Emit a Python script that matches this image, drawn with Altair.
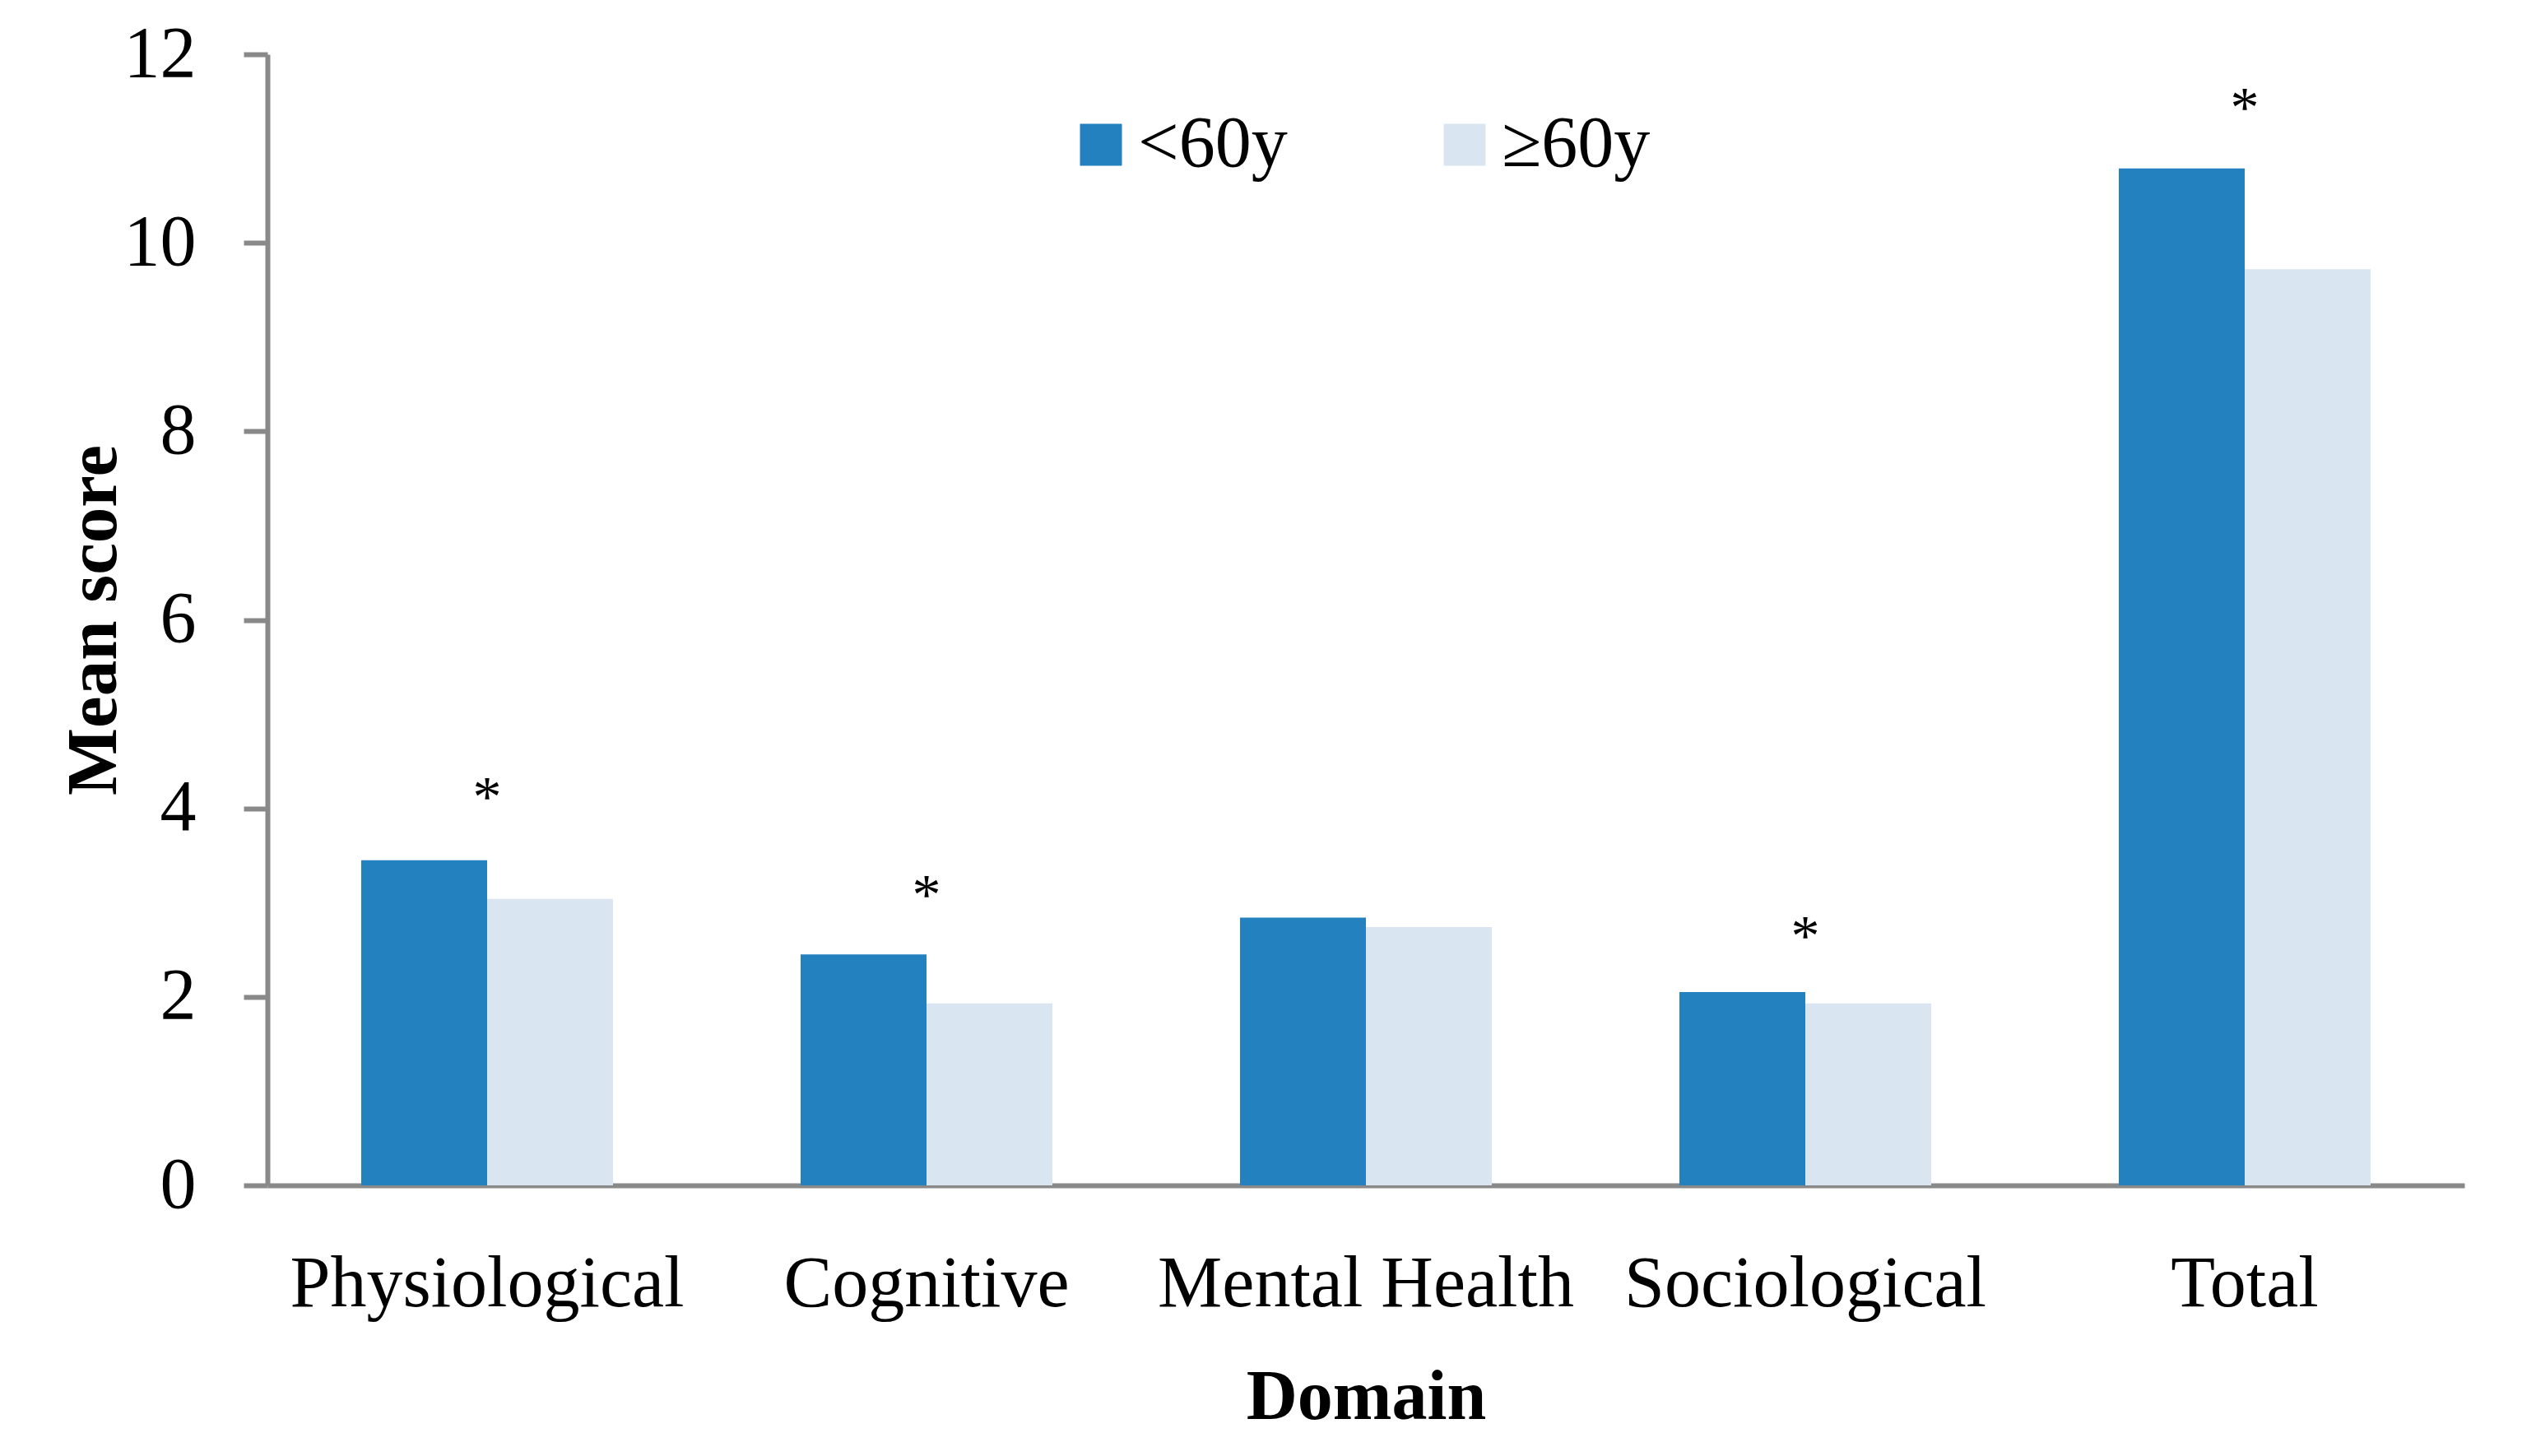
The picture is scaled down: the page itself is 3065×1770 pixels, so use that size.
import altair as alt
import pandas as pd

domains = ["Physiological", "Cognitive", "Mental Health", "Sociological", "Total"]
groups = ["<60y", "≥60y"]
under60 = [3.45, 2.45, 2.84, 2.05, 10.79]
over60 = [3.04, 1.93, 2.74, 1.93, 9.72]
colors = ["#2481C0", "#D9E6F2"]
star_domains = ["Physiological", "Cognitive", "Sociological", "Total"]
star_y = [4.20, 3.16, 2.72, 11.51]
y_ticks = [0, 2, 4, 6, 8, 10, 12]

rows = []
for d, a, b in zip(domains, under60, over60):
    rows.append({"Domain": d, "Group": groups[0], "value": a})
    rows.append({"Domain": d, "Group": groups[1], "value": b})
bars_df = pd.DataFrame(rows)
stars_df = pd.DataFrame({"Domain": star_domains, "value": star_y})

FONT = "Liberation Serif"
GRAY = "#898989"

bars = alt.Chart(bars_df).mark_bar(strokeWidth=0).encode(
    x=alt.X(
        "Domain:N",
        sort=domains,
        scale=alt.Scale(paddingInner=0.427, paddingOuter=0.2135),
        axis=alt.Axis(
            title="Domain",
            labelAngle=0,
            ticks=False,
            tickSize=0,
            labelPadding=146,
            labelBaseline="alphabetic",
            labelFont=FONT,
            labelFontSize=88,
            labelColor="black",
            labelLimit=0,
            labelOverlap=False,
            labelFlush=False,
            titleFont=FONT,
            titleFontSize=86,
            titleFontWeight="bold",
            titleColor="black",
            titleBaseline="alphabetic",
            titleY=283,
            domainColor=GRAY,
            domainWidth=6,
        ),
    ),
    xOffset=alt.XOffset("Group:N", sort=groups, scale=alt.Scale(paddingInner=0, paddingOuter=0)),
    y=alt.Y(
        "value:Q",
        scale=alt.Scale(domain=[0, 12], nice=False),
        axis=alt.Axis(
            title="Mean score",
            values=y_ticks,
            format="d",
            grid=False,
            tickSize=29,
            tickWidth=6,
            tickColor=GRAY,
            domainColor=GRAY,
            domainWidth=6,
            labelPadding=58,
            labelFont=FONT,
            labelFontSize=88,
            labelColor="black",
            labelBaseline="middle",
            titleFont=FONT,
            titleFontSize=87,
            titleFontWeight="bold",
            titleColor="black",
            titleAngle=270,
            titleBaseline="alphabetic",
            titleAlign="center",
            titleX=-185,
            titleY=687.5,
        ),
    ),
    color=alt.Color(
        "Group:N",
        sort=groups,
        scale=alt.Scale(domain=groups, range=colors),
        legend=alt.Legend(
            title=None,
            orient="none",
            legendX=969,
            legendY=66,
            direction="horizontal",
            symbolType="square",
            symbolSize=2601,
            symbolStrokeWidth=0,
            labelFont=FONT,
            labelFontSize=88,
            labelColor="black",
            labelOffset=1,
            labelLimit=0,
            columnPadding=171,
            padding=0,
        ),
    ),
)

stars = alt.Chart(stars_df).mark_text(
    text="*", font=FONT, fontSize=70, baseline="alphabetic", dy=32, color="black"
).encode(
    x=alt.X("Domain:N", sort=domains),
    y=alt.Y("value:Q"),
)

chart = alt.layer(bars, stars).properties(
    width=2670,
    height=1375,
    autosize=alt.AutoSizeParams(type="none"),
    padding={"left": 317, "top": 58, "right": 62, "bottom": 321},
).configure_view(stroke=None)

chart.save("out.html", embed_options={"renderer": "svg", "actions": False})
